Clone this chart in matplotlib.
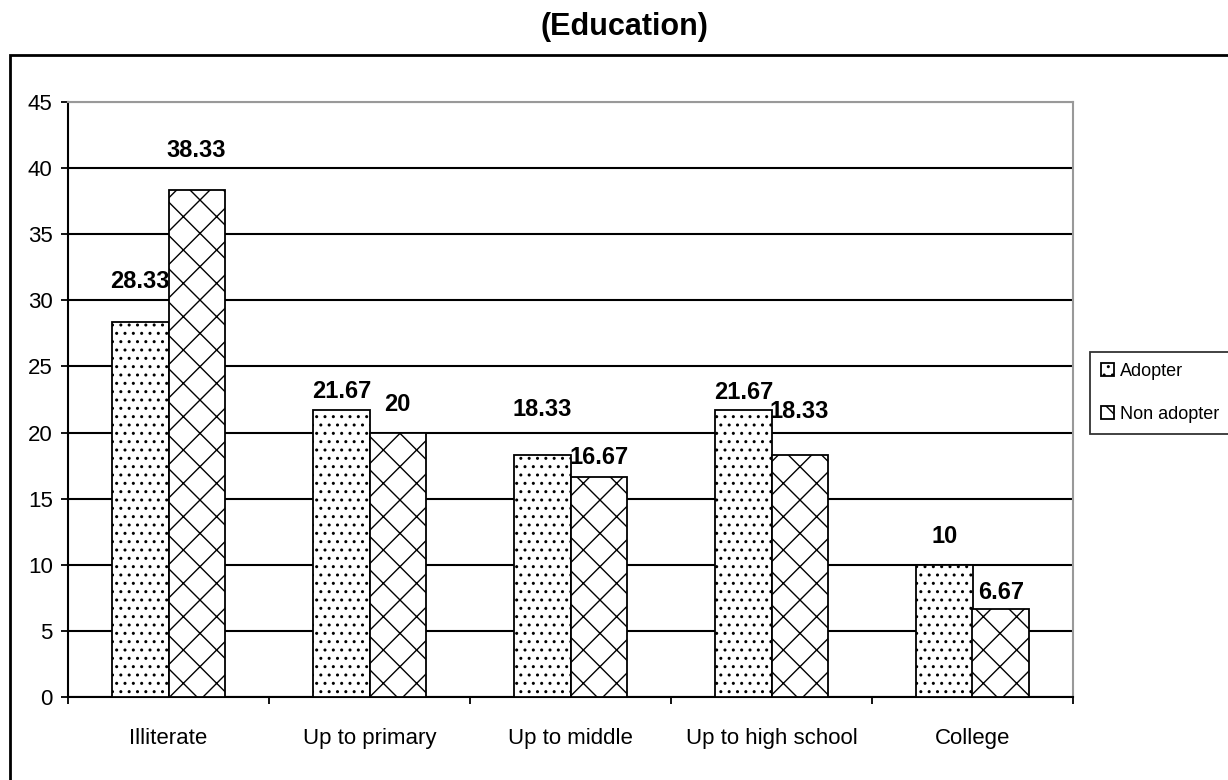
import matplotlib
matplotlib.use("Agg")
import matplotlib.pyplot as plt
from matplotlib.patches import Rectangle

categories = ["Illiterate", "Up to primary", "Up to middle", "Up to high school", "College"]
adopter = [28.33, 21.67, 18.33, 21.67, 10]
non_adopter = [38.33, 20, 16.67, 18.33, 6.67]
series_names = ["Adopter", "Non adopter"]
y_ticks = [0, 5, 10, 15, 20, 25, 30, 35, 40, 45]

# gap (points) between each bar top and the centre of its label
adopter_label_gap = [29.5, 13.7, 32.4, 13.0, 20.2]
non_adopter_label_gap = [28.8, 20.2, 13.7, 31.0, 11.5]

plt.rcParams["font.family"] = ["Liberation Sans", "DejaVu Sans"]
plt.rcParams["hatch.linewidth"] = 1.0

fig = plt.figure(figsize=(12.28, 7.8), dpi=100)
ax = fig.add_axes([68 / 1228, 1 - 697 / 780, (1073 - 68) / 1228, (697 - 102) / 780])

width = 0.28
x = list(range(len(categories)))
b1 = ax.bar([i - width / 2 for i in x], adopter, width, color="white",
            edgecolor="black", hatch="..", linewidth=1.3, zorder=3, label=series_names[0])
b2 = ax.bar([i + width / 2 for i in x], non_adopter, width, color="white",
            edgecolor="black", hatch="x", linewidth=1.3, zorder=3, label=series_names[1])

for bars, vals, gaps in [(b1, adopter, adopter_label_gap), (b2, non_adopter, non_adopter_label_gap)]:
    for rect, v, g in zip(bars, vals, gaps):
        ax.annotate(f"{v:g}", (rect.get_x() + rect.get_width() / 2, v),
                    xytext=(0, g), textcoords="offset points", ha="center", va="center",
                    fontsize=17, fontweight="bold", zorder=4)

ax.set_xlim(-0.5, len(categories) - 0.5)
ax.set_ylim(0, 45)
ax.set_yticks(y_ticks)
ax.set_xticks(x)
ax.set_xticklabels(categories)
ax.set_xticks([i - 0.5 for i in range(len(categories) + 1)], minor=True)
ax.tick_params(axis="x", which="major", length=0, pad=22, labelsize=16)
ax.tick_params(axis="x", which="minor", length=5, width=1.3, direction="out")
ax.tick_params(axis="y", length=5, width=1.3, pad=6, labelsize=16)

ax.set_axisbelow(True)
ax.yaxis.grid(True, color="black", linewidth=1.5)
ax.yaxis.get_gridlines()[-1].set_color("#999999")
for side in ["top", "right"]:
    ax.spines[side].set_color("#999999")
    ax.spines[side].set_linewidth(1.5)
for side in ["left", "bottom"]:
    ax.spines[side].set_linewidth(1.5)

fig.text(624 / 1228, 1 - 27 / 780, "(Education)", ha="center", va="center",
         fontsize=22, fontweight="bold")

# outer chart frame, running off the right and bottom edges
fig.patches.append(Rectangle((10 / 1228, -0.1), 1.2, 1 - 55 / 780 + 0.1,
                             transform=fig.transFigure, fill=False,
                             edgecolor="black", linewidth=2))

leg = fig.legend(handles=[b1, b2], loc="upper left",
                 bbox_to_anchor=(1090 / 1228, 1 - 352 / 780), borderaxespad=0,
                 fontsize=13, handlelength=0.75, handleheight=0.75, handletextpad=0.3,
                 borderpad=0.6, labelspacing=1.45, fancybox=False, frameon=True)
leg.get_frame().set_edgecolor("black")
leg.get_frame().set_linewidth(1.3)

fig.savefig("out.png", dpi=100)
